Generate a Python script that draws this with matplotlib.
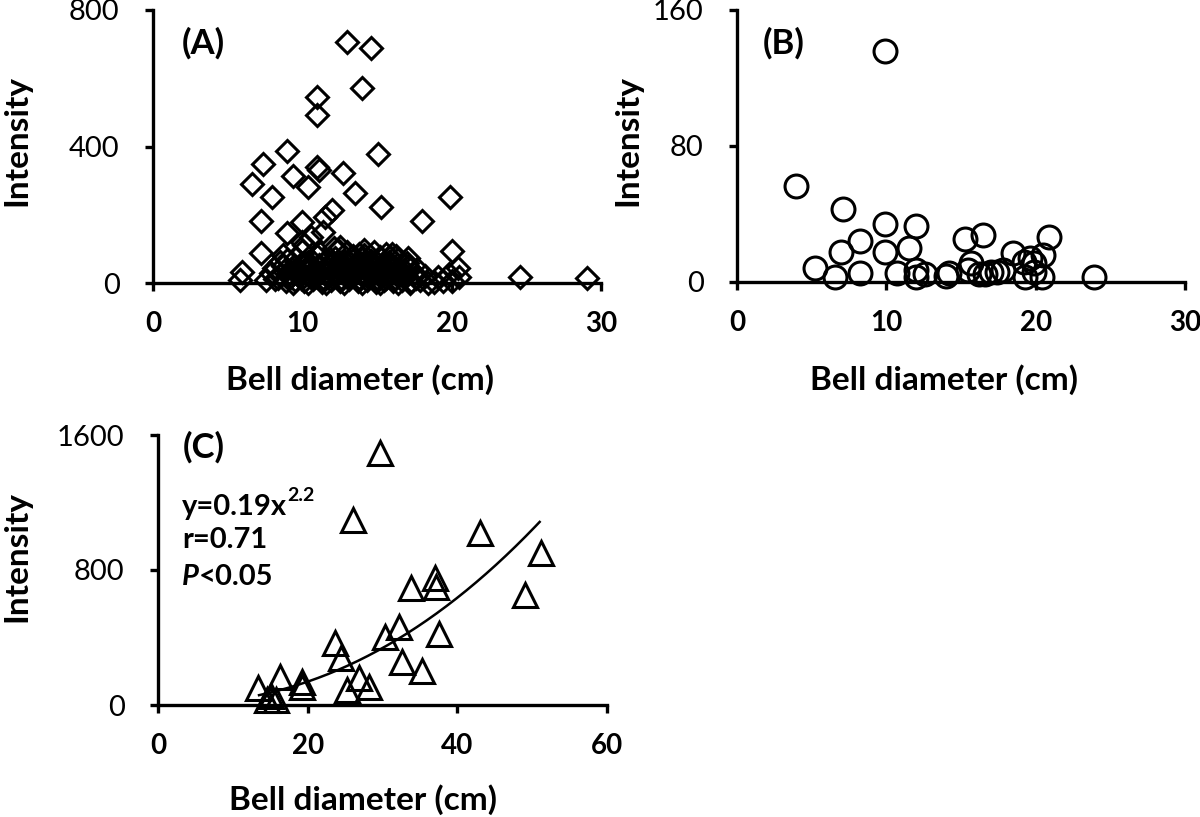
"""Bell diameter vs intensity, three scatter panels (A, B, C)."""
import matplotlib

matplotlib.use("Agg")
import matplotlib.pyplot as plt
import numpy as np

plt.rcParams["font.family"] = ["Lato", "DejaVu Sans"]

# Panel A: diamonds
a_x = [12.97, 14.6, 14.0, 10.96, 10.96, 8.95, 7.39, 15.1, 10.96, 11.1, 9.4, 12.75,
       10.4, 6.61, 8.0, 13.5, 19.9, 15.3, 12.0, 11.5, 18.0, 7.21, 10.0, 8.95, 11.4,
       10.6, 10.1, 20.0, 7.2, 8.7, 12.1, 12.5, 14.1, 15.9, 16.3, 17.1, 5.94, 5.8,
       20.4, 20.5, 24.6, 29.05, 9.96, 8.5, 14.1, 15.6,
       7.6, 8.2, 8.9, 9.5, 10.1, 10.7, 11.3, 11.9, 12.5, 13.1, 13.7, 14.3, 14.9, 15.5,
       16.1, 16.7, 17.3, 17.9, 18.8, 19.4, 20.0,
       7.9, 8.5, 9.1, 9.7, 10.3, 10.9, 11.5, 12.1, 12.7, 13.3, 13.9, 14.5, 15.1, 15.7,
       16.3, 16.9, 17.5, 18.2, 19.1, 19.8,
       8.1, 8.7, 9.3, 9.9, 10.5, 11.1, 11.7, 12.3, 12.9, 13.5, 14.1, 14.7, 15.3, 15.9,
       16.5, 17.1, 17.7,
       9.0, 9.6, 10.4, 11.0, 11.6, 12.2, 12.8, 13.4, 14.0, 14.6, 15.2, 15.8, 16.4, 17.0,
       10.0, 11.2, 12.4, 13.0, 13.8, 14.8, 16.0,
       8.4, 9.2, 10.0, 10.6, 11.4, 12.0, 12.6, 13.2, 13.8, 14.4, 15.0, 15.6, 16.2, 16.8,
       17.6,
       8.8, 9.6, 10.2, 10.8, 11.4, 12.0, 12.6, 13.2, 13.8, 14.4, 15.0, 15.6, 16.2, 16.8,
       10.2, 10.8, 11.4, 12.0, 12.6, 13.2, 13.8, 14.4, 15.0, 15.6,
       9.4, 10.4, 11.6, 12.8, 14.0, 15.2, 16.4, 17.2, 18.4]
a_y = [707, 690, 570, 544, 492, 388, 349, 378, 341, 330, 314, 321,
       282, 290, 251, 263, 253, 222, 214, 194, 183, 183, 180, 146, 148,
       136, 111, 95, 87, 82, 102, 106, 82, 75, 80, 73, 33, 10,
       43, 19, 19, 14, 121, 62, 97, 85,
       8, 12, 5, 10, 6, 12, 4, 9, 5, 11, 6, 10, 4, 8,
       5, 10, 6, 8, 4, 7, 5,
       28, 22, 30, 24, 33, 21, 29, 25, 34, 22, 30, 26, 32, 23,
       28, 24, 30, 20, 18, 25,
       45, 50, 42, 55, 47, 52, 44, 56, 48, 53, 43, 50, 46, 54,
       42, 48, 40,
       66, 72, 62, 78, 68, 74, 64, 80, 70, 65, 76, 62, 70, 60,
       95, 88, 98, 92, 86, 90, 84,
       15, 18, 14, 17, 15, 18, 14, 17, 15, 18, 14, 16, 15, 17,
       14,
       36, 38, 40, 36, 38, 40, 36, 38, 40, 36, 38, 40, 36, 38,
       58, 60, 57, 60, 58, 60, 57, 59, 58, 57,
       0, 1, 0, 1, 0, 1, 0, 1, 1]

# Panel B: circles
b_x = [9.93, 3.98, 7.13, 9.93, 11.98, 8.24, 15.3, 16.5, 20.9, 6.98, 9.93, 11.5,
       5.2, 6.53, 8.24, 10.7, 11.98, 11.98, 12.6, 14.0, 14.2, 15.7, 15.5, 16.2,
       16.6, 17.0, 17.4, 17.8, 18.5, 19.2, 19.6, 19.9, 20.5, 19.3, 20.4, 19.9, 23.9]
b_y = [135.9, 56.7, 42.7, 33.9, 33.0, 24.3, 25.1, 27.6, 26.3, 17.5, 17.5, 19.8,
       8.0, 2.7, 5.1, 5.1, 7.1, 2.7, 4.5, 3.5, 5.1, 11.0, 7.0, 5.0,
       5.0, 6.0, 6.0, 7.0, 16.9, 12.0, 14.0, 11.0, 16.0, 3.0, 3.0, 6.0, 3.0]

# Panel C: triangles
c_x = [29.6, 26.1, 43.0, 51.2, 49.1, 37.0, 37.2, 33.8, 32.2, 30.3, 37.5, 23.6,
       24.5, 32.6, 35.3, 26.9, 28.2, 25.2, 16.3, 19.2, 19.3, 13.4, 14.5, 15.8, 15.1]
c_y = [1491, 1096, 1017, 899, 652, 750, 701, 691, 464, 405, 421, 365,
       276, 257, 203, 158, 109, 89, 168, 138, 109, 99, 30, 30, 55]

# power fit shown in panel C: y = a * x^b
fit_a, fit_b = 0.19, 2.2
fit_range = (13.5, 51.0)

W, H = 1200, 817
fig = plt.figure(figsize=(W / 100, H / 100), dpi=100)


def px_axes(left, right, top, bottom):
    return fig.add_axes([left / W, 1 - bottom / H, (right - left) / W, (bottom - top) / H])


def style(ax, xticks, yticks):
    for side in ("top", "right"):
        ax.spines[side].set_visible(False)
    for side in ("left", "bottom"):
        ax.spines[side].set_linewidth(2.4)
    ax.set_xlim(xticks[0], xticks[-1])
    ax.set_ylim(yticks[0], yticks[-1])
    ax.set_xticks(xticks)
    ax.set_yticks(yticks)
    ax.tick_params(axis="both", direction="out", length=6, width=2.4, color="black")
    ax.tick_params(axis="y", pad=18, labelsize=21)
    ax.tick_params(axis="x", pad=14, labelsize=20)
    for lab in ax.get_xticklabels():
        lab.set_fontweight("bold")
    ax.set_facecolor("none")


def fig_label(x, y, text, rot=0):
    fig.text(x / W, 1 - y / H, text, ha="center", va="center", rotation=rot,
             fontsize=24, fontweight="bold")


axA = px_axes(153, 601, 10, 283)
axB = px_axes(737, 1185, 10, 282)
axC = px_axes(158, 607, 435, 705)

style(axA, [0, 10, 20, 30], [0, 400, 800])
style(axB, [0, 10, 20, 30], [0, 80, 160])
style(axC, [0, 20, 40, 60], [0, 800, 1600])

axA.plot(a_x, a_y, ls="none", marker="D", ms=11, mfc="none", mec="black", mew=2.2,
         clip_on=False, zorder=3)
axB.plot(b_x, b_y, ls="none", marker="o", ms=16.5, mfc="none", mec="black", mew=2.2,
         clip_on=False, zorder=3)
axC.plot(c_x, c_y, ls="none", marker="^", ms=17, mfc="none", mec="black", mew=2.2,
         clip_on=False, zorder=3)

xf = np.linspace(fit_range[0], fit_range[1], 200)
axC.plot(xf, fit_a * xf ** fit_b, color="black", lw=1.8, zorder=2)

for ax, tag, fx, fy in ((axA, "(A)", 0.065, 0.879), (axB, "(B)", 0.058, 0.877),
                        (axC, "(C)", 0.056, 0.955)):
    ax.text(fx, fy, tag, transform=ax.transAxes, fontsize=25, fontweight="bold",
            ha="left", va="center")

# fit statistics in panel C
eq = axC.text(0.053, 0.704, "y=0.19x", transform=axC.transAxes, fontsize=21,
              fontweight="bold", ha="left", va="baseline")
axC.annotate("2.2", xy=(1, 0.6), xycoords=eq, fontsize=14, fontweight="bold",
             ha="left", va="bottom")
axC.text(0.053, 0.581, "r=0.71", transform=axC.transAxes, fontsize=21,
         fontweight="bold", ha="left", va="baseline")
pt = axC.text(0.053, 0.444, "P", transform=axC.transAxes, fontsize=21,
              fontweight="bold", style="italic", ha="left", va="baseline")
axC.annotate("<0.05", xy=(1, 0), xycoords=pt, fontsize=21, fontweight="bold",
             ha="left", va="bottom")

fig_label(17, 140, "Intensity", 90)
fig_label(628, 140, "Intensity", 90)
fig_label(17, 556, "Intensity", 90)
fig_label(360, 380, "Bell diameter (cm)")
fig_label(944, 380, "Bell diameter (cm)")
fig_label(363, 800, "Bell diameter (cm)")

fig.savefig("out.png", dpi=100, facecolor="white")
